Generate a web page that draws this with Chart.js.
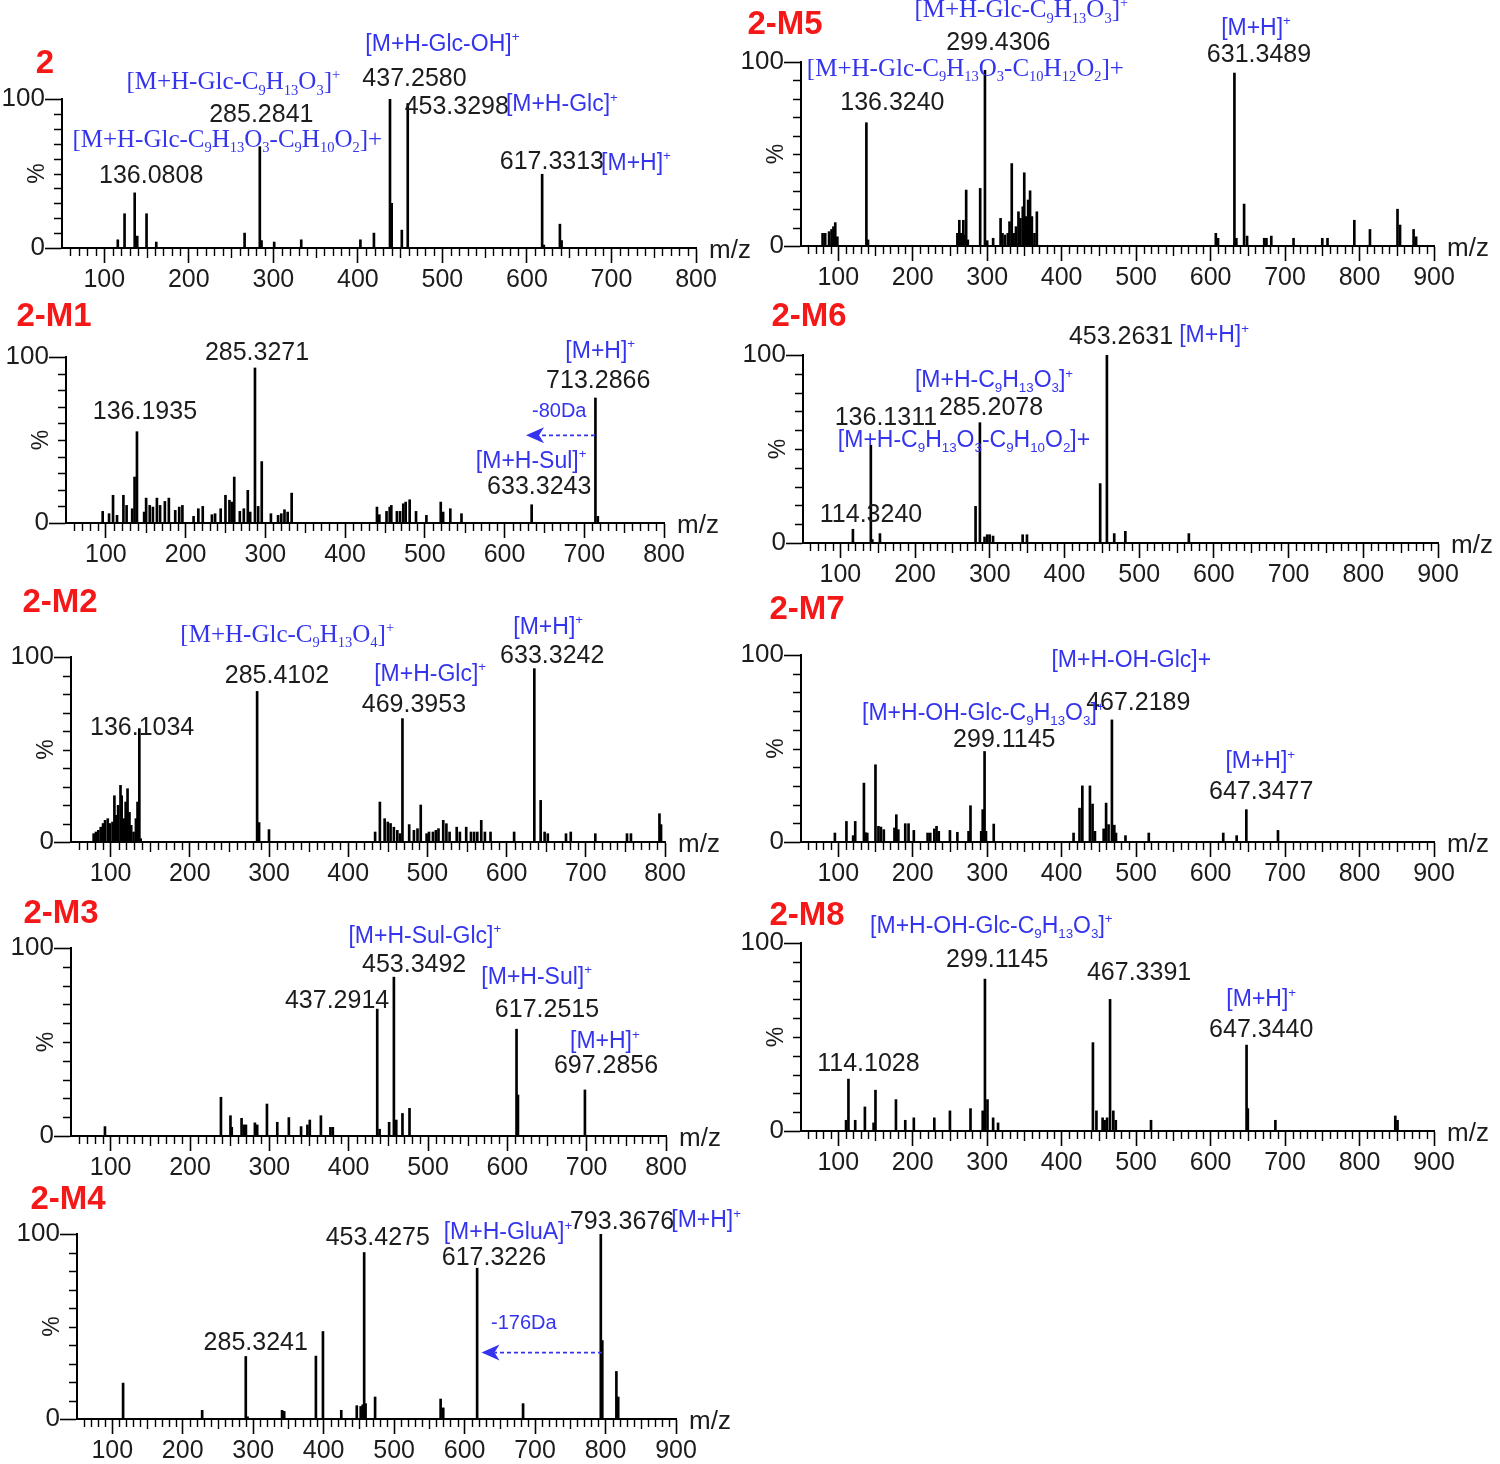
<!DOCTYPE html>
<html>
<head>
<meta charset="utf-8">
<script src="https://cdn.jsdelivr.net/npm/chart.js@4.4.1/dist/chart.umd.min.js"></script>
<style>
  body { margin: 0; background: #fff; }
  #page { position: relative; width: 1500px; height: 1464px; overflow: hidden; background: #fff; }
  #page canvas { position: absolute; }
</style>
</head>
<body>
<div id="page"></div>
<script>
// peak lists: [m/z, relative intensity %]
const peaks2 = [[116, 5.5], [124, 23], [136, 37], [139, 8], [150, 23], [161.5, 4], [266, 10], [284, 68], [286, 5],
  [301, 4], [333, 5.5], [403, 5.5], [419, 10], [438, 100], [440, 30], [452, 12], [459, 97], [618, 49.5], [620, 2],
  [639, 16], [641, 5]];
const peaksM1 = [[96, 7], [104, 5.6], [109, 16.7], [114, 4.6], [122, 16.7], [126, 10.6], [133, 8.6], [136, 27.7],
  [139, 55], [148, 6.6], [150.5, 15], [155, 10.6], [159, 9.6], [164, 15], [168, 10.6], [174, 13], [179, 15],
  [187, 7.6], [192, 9.6], [196, 10.6], [210, 4], [216, 8.6], [221.5, 10], [233, 5], [237, 5.6], [244, 8.6],
  [250, 16.7], [255, 13.7], [258, 12.6], [261, 27.7], [268, 7], [273, 8.6], [278, 19.7], [281, 6.6], [287, 93.4],
  [291, 10], [295.5, 37], [307, 5.6], [316, 4.6], [320, 5.6], [324, 8], [328, 6.6], [333, 18], [440, 9.6], [443, 5],
  [452, 7], [456, 9.6], [458, 10.6], [465, 7], [469, 7], [473, 11.6], [476, 12.6], [481, 14], [489, 7], [502, 4.6],
  [520, 12.6], [523, 6.6], [532, 8.6], [546, 5.6], [634, 11], [714, 75.3], [717, 4]];
const peaksM2 = [[78.6, 4.5], [81.5, 5.4], [84.5, 6.3], [87.5, 8], [90.5, 10], [93, 11.7], [96.4, 12.6], [98.8, 10],
  [102.4, 10.8], [104.8, 25], [107, 14.4], [109.5, 19.8], [112.5, 30.6], [114, 25], [116.7, 12.6], [119, 21.6],
  [121.4, 28.8], [123.8, 16], [126, 9], [129, 5.4], [132, 12.6], [134, 21.6], [136.3, 61.3], [138, 1.8],
  [285, 81.4], [287.5, 10.5], [300, 6.7], [434, 5.4], [440, 21.6], [446, 12.6], [450, 10.8], [453.5, 10],
  [457.7, 8], [462, 6.3], [465.5, 4.5], [468.5, 66.7], [477, 9.4], [483, 6.3], [487.5, 7.2], [491.6, 20], [499, 4.5],
  [502, 5.4], [507, 5.4], [510.7, 6.3], [514, 7.2], [520, 11.7], [524, 9.9], [528, 5.4], [537, 8], [541, 5.4],
  [549, 8], [555, 5.4], [559, 5.4], [563, 5.4], [568, 11.7], [572.6, 5.4], [579.7, 5.4], [609.5, 5.4], [635, 93.7],
  [643, 22.5], [648, 5.4], [652, 4.5], [675, 4.5], [681, 5.4], [712, 4.5], [752, 4.5], [757, 4.5], [793, 15.3],
  [795, 9.4]];
const peaksM3 = [[92.8, 5], [239, 20.6], [251, 10.8], [252.6, 4.6], [265, 9.4], [268, 5.9], [270.5, 5.9],
  [281.8, 7], [284.7, 5.9], [297, 17], [310, 7.3], [324.6, 9.8], [340, 5], [348, 5.9], [351, 8.5], [365, 10.8],
  [377, 4.6], [380, 4.6], [436, 67.5], [439, 3.6], [451, 7.3], [457, 84.5], [460, 8.5], [467.8, 12], [476.7, 14.7],
  [611.6, 56.8], [613.4, 21.8], [697.8, 24.5]];
const peaksM4 = [[115.4, 19.4], [227.6, 4.7], [289.5, 33.8], [292, 1.2], [341, 4.7], [344, 4.1], [389, 34],
  [399, 47.3], [425, 4.7], [447, 7.2], [452.6, 6.8], [455.5, 7.7], [457.5, 90], [459.5, 8.3], [473, 11.9],
  [566, 10.8], [569.7, 6], [617.8, 81.5], [683, 8.3], [793.3, 100], [795.4, 42.4], [815.4, 25.7], [818, 11.9]];
const peaksM5 = [[79, 6.9], [82.5, 6.9], [87.7, 7.8], [91, 9], [93.6, 10.5], [96, 12.7], [98.8, 5], [137.8, 67],
  [140, 3.3], [260, 6.9], [262.6, 14], [265, 6.9], [268, 14], [270, 6], [271.8, 30.4], [274, 3.3], [290.6, 31.3],
  [297, 95.5], [300, 2.9], [308, 4.2], [318, 15], [320.5, 6.9], [323.8, 6], [327.7, 6.9], [330, 13.2], [333, 44.8],
  [335.5, 6.9], [338.7, 10.5], [342, 18.6], [344.6, 15], [347.8, 21.3], [349.8, 39.8], [352.4, 16], [355, 25],
  [357.6, 30], [360, 16], [363.5, 6.9], [366.7, 18.6], [607, 6.9], [610, 4.2], [632, 94], [634.6, 4.2], [645, 22.8],
  [649, 5.4], [672, 4.2], [675, 4.2], [681.5, 5.4], [711.4, 4.2], [750, 4.2], [757, 4.2], [793, 14], [814, 9],
  [851, 20], [854.4, 11.4], [872.6, 9], [876, 5]];
const peaksM6 = [[116.8, 7.3], [140.8, 52], [142.8, 1.8], [153, 5], [281, 19.5], [286.8, 64], [293, 3.2],
  [296.6, 4.4], [299.8, 4.4], [304.4, 3.7], [344, 4.4], [349.8, 4.4], [447.8, 31.6], [456.8, 100], [466.6, 5],
  [481.5, 6.2], [566.5, 5]];
const peaksM7 = [[95.5, 4.8], [111, 11], [120, 3.4], [122.8, 11], [134.5, 31.5], [136.5, 5], [139, 4.8], [150, 41.3],
  [154, 8.4], [157.3, 8], [161.2, 6.6], [175.5, 7.5], [178, 14.6], [180.7, 6.6], [190, 9.8], [194.4, 9.8],
  [201.5, 6.2], [220, 4.8], [223.6, 4.8], [229, 7], [232, 8.4], [235, 5.7], [250, 6.2], [260, 5.2], [275, 5.7],
  [277.6, 19.4], [292, 5.7], [294, 17.3], [296.5, 48.4], [298.4, 5.7], [308.8, 9.6], [416, 4.8], [424, 18.1],
  [427.8, 30], [438, 30], [441.5, 20.3], [444.7, 5.7], [456.4, 7], [459.7, 20.8], [463, 9.3], [467.5, 65.3],
  [470.7, 9], [473, 4.8], [485.7, 3.4], [517, 4.8], [617, 4.8], [635, 3.4], [648, 17.3], [690.5, 6.2]];
const peaksM8 = [[110.5, 5.7], [113.7, 27.6], [122.8, 5.7], [135.8, 12.8], [147.5, 4.3], [150, 21.7], [177.5, 16.7],
  [190, 5.7], [201.5, 7], [229, 7], [250, 10.7], [277.6, 11.9], [294, 10.7], [297, 80.8], [300.4, 16.7], [308, 7],
  [314.6, 4.3], [442, 47], [446.7, 10.7], [455, 7], [457.7, 5.7], [461, 7], [465, 70], [469.4, 10.7], [472.7, 5.7],
  [520, 5.7], [648.3, 45.7], [650, 11.9], [687, 5.7], [848, 8], [851, 5.7]];

// peak labels: [m/z anchor, % anchor, text]   (_{..} subscript, ^{..} superscript)
const mass2 = [[467, 113.5, '437.2580'], [285.8, 89.2, '285.2841'], [155.5, 48, '136.0808'],
  [517, 94.6, '453.3298'], [629.5, 57.4, '617.3313']];
const ion2 = [[500, 136.5, '[M+H-Glc-OH]^{+}'], [641.3, 96, '[M+H-Glc]^{+}'], [729, 56.8, '[M+H]^{+}']];
const serif2 = [[252.6, 110.8, '[M+H-Glc-C_{9}H_{13}O_{3}]^{+}'],
  [245.5, 72.3, '[M+H-Glc-C_{9}H_{13}O_{3}-C_{9}H_{10}O_{2}]+']];

const massM1 = [[289.6, 102.2, '285.3271'], [149, 66.7, '136.1935'], [717.5, 85.4, '713.2866'],
  [643.5, 21.5, '633.3243']];
const ionM1 = [[720, 103.4, '[M+H]^{+}'], [633.4, 37.2, '[M+H-Sul]^{+}']];
const shiftM1 = [[668.6, 67.3, '-80Da']];
const arrowM1 = [713.5, 627, 52.8];

const massM2 = [[310, 89.6, '285.4102'], [483, 73.9, '469.3953'], [657.6, 100.4, '633.3242'],
  [139.8, 61.5, '136.1034']];
const ionM2 = [[503.5, 90.6, '[M+H-Glc]^{+}'], [652.5, 116, '[M+H]^{+}']];
const serifM2 = [[323, 111.7, '[M+H-Glc-C_{9}H_{13}O_{4}]^{+}']];

const massM3 = [[482.5, 91.1, '453.3492'], [385.4, 71.9, '437.2914'], [650, 67.1, '617.2515'],
  [724.4, 37.3, '697.2856']];
const ionM3 = [[496, 106, '[M+H-Sul-Glc]^{+}'], [637, 84.2, '[M+H-Sul]^{+}'], [723, 50.1, '[M+H]^{+}']];

const massM4 = [[476.8, 97.8, '453.4275'], [641.6, 87, '617.3226'], [823.5, 106.5, '793.3676'],
  [303.6, 41.2, '285.3241']];
const ionM4 = [[661.5, 100.5, '[M+H-GluA]^{+}'], [942.8, 107, '[M+H]^{+}']];
const shiftM4 = [[684, 51.4, '-176Da']];
const arrowM4 = [795, 624, 35.9];

const massM5 = [[315, 110, '299.4306'], [172.7, 77.6, '136.3240'], [665, 103.6, '631.3489']];
const ionM5 = [[661, 118.3, '[M+H]^{+}']];
const serifM5 = [[345.8, 128, '[M+H-Glc-C_{9}H_{13}O_{3}]^{+}'],
  [270.7, 96, '[M+H-Glc-C_{9}H_{13}O_{3}-C_{10}H_{12}O_{2}]+']];

const massM6 = [[475.7, 109.6, '453.2631'], [301.7, 71.8, '285.2078'], [161, 66.4, '136.1311'],
  [141, 14.7, '114.3240']];
const ionM6 = [[600.2, 110.1, '[M+H]^{+}'], [305.7, 86.1, '[M+H-C_{9}H_{13}O_{3}]^{+}'],
  [265.5, 54.2, '[M+H-C_{9}H_{13}O_{3}-C_{9}H_{10}O_{2}]+']];

const massM7 = [[502.9, 74.4, '467.2189'], [323, 54.6, '299.1145'], [668, 26.9, '647.3477']];
const ionM7 = [[493.5, 96.8, '[M+H-OH-Glc]+'], [294.8, 68.5, '[M+H-OH-Glc-C_{9}H_{13}O_{3}]^{+}'],
  [666.7, 42.9, '[M+H]^{+}']];

const massM8 = [[313.6, 91.1, '299.1145'], [504, 84.2, '467.3391'], [668, 53.7, '647.3440'],
  [140.5, 35.6, '114.1028']];
const ionM8 = [[305.6, 108.7, '[M+H-OH-Glc-C_{9}H_{13}O_{3}]^{+}'], [668, 69.7, '[M+H]^{+}']];

const titles = ['2', '2-M1', '2-M2', '2-M3', '2-M4', '2-M5', '2-M6', '2-M7', '2-M8'];

const SANS = '"Liberation Sans", Arial, sans-serif';
const SERIF = '"Liberation Serif", "Times New Roman", serif';
const INK = '#000';
const TEXT = '#1c1c1c';
const BLUE = '#3434ee';
const RED = '#f41818';
const PAD_T = 75, PAD_R = 85, AX_W = 70, AX_H = 48;

// box = chart area [left, top, right, bottom] on the page
const panels = [
  { title: titles[0], box: [62, 99, 696, 248], xMax: 800, titleAt: [-17, -35], peaks: peaks2, mass: mass2, ion: ion2, serif: serif2 },
  { title: titles[1], box: [66, 357, 664, 523], xMax: 800, titleAt: [-12, -40], peaks: peaksM1, mass: massM1, ion: ionM1, shift: shiftM1, arrow: arrowM1 },
  { title: titles[2], box: [71, 657, 665, 842], xMax: 800, titleAt: [-11, -54], peaks: peaksM2, mass: massM2, ion: ionM2, serif: serifM2 },
  { title: titles[3], box: [71, 948, 666, 1136], xMax: 800, titleAt: [-10, -34], peaks: peaksM3, mass: massM3, ion: ionM3 },
  { title: titles[4], box: [77, 1234, 676, 1419], xMax: 900, titleAt: [-9, -34], peaks: peaksM4, mass: massM4, ion: ionM4, shift: shiftM4, arrow: arrowM4 },
  { title: titles[5], box: [801, 62, 1434, 246], xMax: 900, titleAt: [-16, -37], peaks: peaksM5, mass: massM5, ion: ionM5, serif: serifM5 },
  { title: titles[6], box: [803, 355, 1438, 543], xMax: 900, titleAt: [6, -38], peaks: peaksM6, mass: massM6, ion: ionM6 },
  { title: titles[7], box: [801, 655, 1434, 842], xMax: 900, titleAt: [6, -45], peaks: peaksM7, mass: massM7, ion: ionM7 },
  { title: titles[8], box: [801, 943, 1434, 1131], xMax: 900, titleAt: [6, -27], peaks: peaksM8, mass: massM8, ion: ionM8 }
];

function parseRich(str) {
  const segs = [];
  let buf = '', i = 0;
  while (i < str.length) {
    const c = str[i];
    if ((c === '_' || c === '^') && str[i + 1] === '{') {
      if (buf) { segs.push({ t: buf, k: 0 }); buf = ''; }
      const end = str.indexOf('}', i);
      segs.push({ t: str.slice(i + 2, end), k: c === '_' ? 1 : -1 });
      i = end + 1;
    } else {
      buf += c;
      i++;
    }
  }
  if (buf) segs.push({ t: buf, k: 0 });
  return segs;
}

function drawRich(ctx, str, cx, cy, size, family, color) {
  const segs = parseRich(str);
  const fontOf = s => (s.k ? size * 0.58 : size) + 'px ' + family;
  let total = 0;
  segs.forEach(s => { ctx.font = fontOf(s); s.w = ctx.measureText(s.t).width; total += s.w; });
  let x = cx - total / 2;
  ctx.fillStyle = color;
  ctx.textAlign = 'left';
  ctx.textBaseline = 'middle';
  segs.forEach(s => {
    ctx.font = fontOf(s);
    const dy = s.k === 1 ? size * 0.33 : (s.k === -1 ? -size * 0.3 : 0);
    ctx.fillText(s.t, x, cy + dy);
    x += s.w;
  });
}

function drawArrow(ctx, xs, ys, a) {
  const x1 = xs.getPixelForValue(a[0]), x2 = xs.getPixelForValue(a[1]), py = ys.getPixelForValue(a[2]);
  ctx.strokeStyle = BLUE;
  ctx.fillStyle = BLUE;
  ctx.lineWidth = 1.6;
  ctx.setLineDash([4, 3]);
  ctx.beginPath();
  ctx.moveTo(x1, py);
  ctx.lineTo(x2 + 13, py);
  ctx.stroke();
  ctx.setLineDash([]);
  ctx.beginPath();
  ctx.moveTo(x2, py);
  ctx.lineTo(x2 + 18, py - 8);
  ctx.lineTo(x2 + 13, py);
  ctx.lineTo(x2 + 18, py + 8);
  ctx.closePath();
  ctx.fill();
}

function spectrumDecor(p) {
  return {
    id: 'spectrumDecor',
    afterDraw(chart) {
      const ctx = chart.ctx, a = chart.chartArea, xs = chart.scales.x, ys = chart.scales.y;
      ctx.save();
      // minor ticks
      ctx.strokeStyle = INK;
      ctx.lineWidth = 1.4;
      ctx.beginPath();
      for (let v = xs.min + 10; v < xs.max; v += 10) {
        if (v % 100 === 0) continue;
        const px = Math.round(xs.getPixelForValue(v)) + 0.5;
        ctx.moveTo(px, a.bottom);
        ctx.lineTo(px, a.bottom + (v % 50 === 0 ? 10 : 8));
      }
      for (let v = 10; v < 100; v += 10) {
        const py = Math.round(ys.getPixelForValue(v)) + 0.5;
        ctx.moveTo(a.left - 8, py);
        ctx.lineTo(a.left, py);
      }
      ctx.stroke();
      // y tick labels
      ctx.fillStyle = TEXT;
      ctx.font = '26px ' + SANS;
      ctx.textAlign = 'right';
      ctx.textBaseline = 'middle';
      ys.ticks.forEach(t => {
        ctx.fillText(String(t.value), a.left - 17, ys.getPixelForValue(t.value));
      });
      // rotated percent sign
      ctx.save();
      ctx.translate(a.left - 24, ys.getPixelForValue(50));
      ctx.rotate(-Math.PI / 2);
      ctx.font = '23px ' + SANS;
      ctx.textAlign = 'center';
      ctx.textBaseline = 'middle';
      ctx.fillText('%', 0, 0);
      ctx.restore();
      // axis unit
      ctx.font = '26px ' + SANS;
      ctx.textAlign = 'left';
      ctx.textBaseline = 'middle';
      ctx.fillText('m/z', a.right + 13, a.bottom + 3);
      // panel title
      ctx.font = 'bold 33px ' + SANS;
      ctx.fillStyle = RED;
      ctx.textAlign = 'center';
      ctx.fillText(p.title, a.left + p.titleAt[0], a.top + p.titleAt[1]);
      // annotations
      const at = n => [xs.getPixelForValue(n[0]), ys.getPixelForValue(n[1])];
      (p.mass || []).forEach(n => { const q = at(n); drawRich(ctx, n[2], q[0], q[1], 25, SANS, TEXT); });
      (p.ion || []).forEach(n => { const q = at(n); drawRich(ctx, n[2], q[0], q[1], 23, SANS, BLUE); });
      (p.serif || []).forEach(n => { const q = at(n); drawRich(ctx, n[2], q[0], q[1], 25, SERIF, BLUE); });
      (p.shift || []).forEach(n => { const q = at(n); drawRich(ctx, n[2], q[0], q[1], 20, SANS, BLUE); });
      if (p.arrow) drawArrow(ctx, xs, ys, p.arrow);
      ctx.restore();
    }
  };
}

function chartSpectrum(p) {
  const [L, T, R, B] = p.box;
  const cv = document.createElement('canvas');
  cv.width = R - L + AX_W + PAD_R;
  cv.height = B - T + PAD_T + AX_H;
  cv.style.left = (L - AX_W) + 'px';
  cv.style.top = (T - PAD_T) + 'px';
  document.getElementById('page').appendChild(cv);

  const majors = [];
  for (let v = 100; v <= p.xMax; v += 100) majors.push(v);

  new Chart(cv, {
    type: 'bar',
    data: {
      datasets: [{
        data: p.peaks.map(pk => ({ x: pk[0], y: pk[1] })),
        backgroundColor: INK,
        borderWidth: 0,
        barThickness: 2
      }]
    },
    options: {
      responsive: false,
      animation: false,
      events: [],
      layout: { padding: { top: PAD_T, right: PAD_R, left: 0, bottom: 0 } },
      plugins: { legend: { display: false }, tooltip: { enabled: false } },
      scales: {
        x: {
          type: 'linear',
          min: 50,
          max: p.xMax,
          offset: false,
          afterBuildTicks: s => { s.ticks = majors.map(v => ({ value: v })); },
          afterFit: s => { s.height = AX_H; },
          grid: { display: true, offset: false, drawOnChartArea: false, drawTicks: true, tickLength: 15, tickWidth: 1.6, tickColor: INK },
          border: { display: true, color: INK, width: 2 },
          ticks: { color: TEXT, font: { family: SANS, size: 25 }, padding: 2, maxRotation: 0, autoSkip: false }
        },
        y: {
          min: 0,
          max: 100,
          afterBuildTicks: s => { s.ticks = [{ value: 0 }, { value: 100 }]; },
          afterFit: s => { s.width = AX_W; },
          grid: { display: true, drawOnChartArea: false, drawTicks: true, tickLength: 17, tickWidth: 1.6, tickColor: INK },
          border: { display: true, color: INK, width: 2 },
          ticks: { display: false }
        }
      }
    },
    plugins: [spectrumDecor(p)]
  });
}

panels.forEach(chartSpectrum);
</script>
</body>
</html>
